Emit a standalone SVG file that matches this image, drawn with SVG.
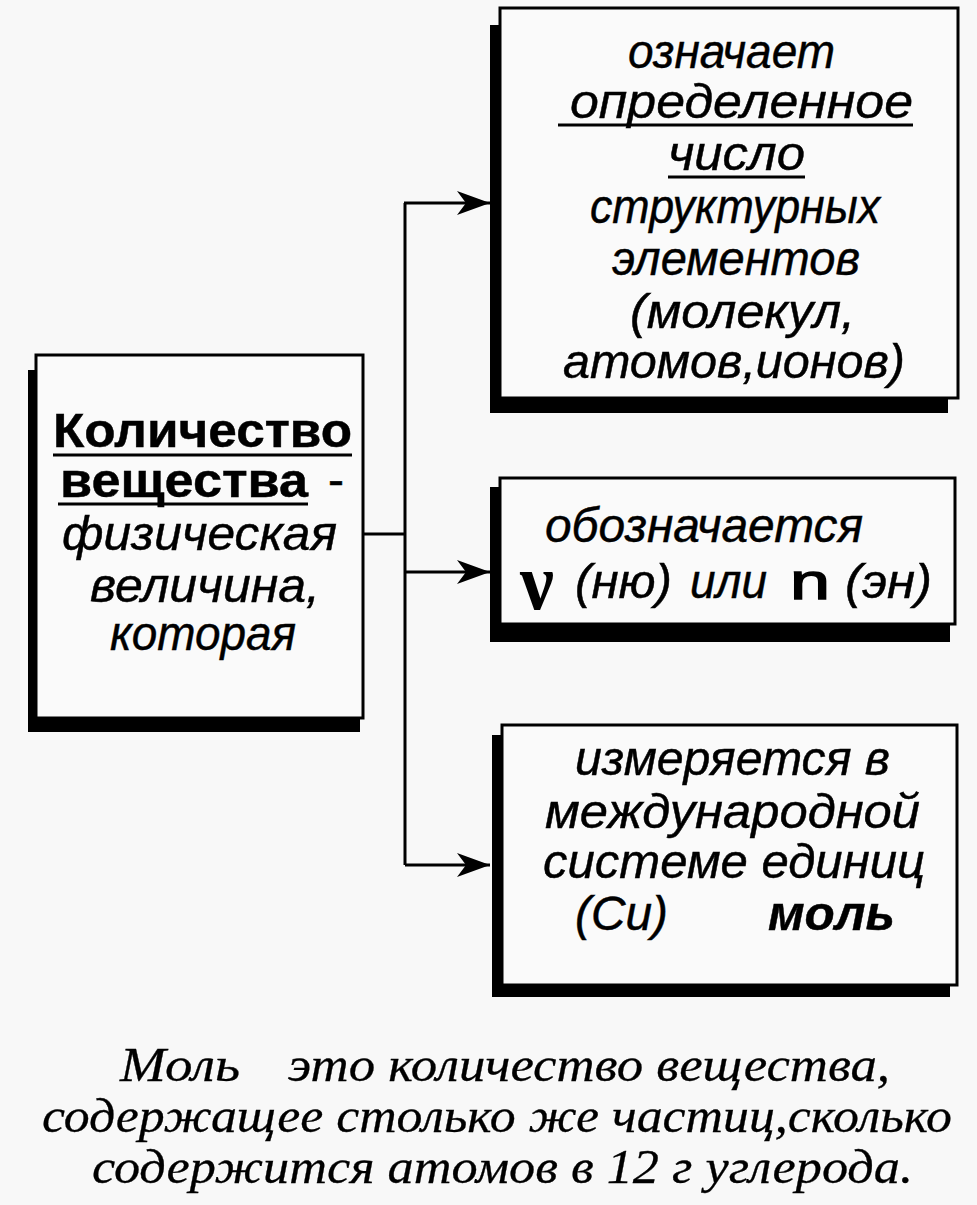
<svg xmlns="http://www.w3.org/2000/svg" width="977" height="1205" viewBox="0 0 977 1205">
<style>
.bg{fill:#f8f8f8}
.box{fill:#fafafa;stroke:#000;stroke-width:3}
.sh{fill:#000}
.t{font-family:"Liberation Sans",Arial,sans-serif;font-size:48px;fill:#000;stroke:#000;stroke-width:0.45}
.i{font-style:italic}
.b{font-weight:bold}
.u{stroke:#000;stroke-width:3}
.cap{font-family:"Liberation Serif","Times New Roman",serif;font-style:italic;font-size:48px;fill:#000;stroke:#000;stroke-width:0.3}
.con{fill:none;stroke:#000;stroke-width:3}
</style>
<defs>
<marker id="arr" markerUnits="strokeWidth" markerWidth="11" markerHeight="8" refX="11" refY="4" orient="auto">
<path d="M0,0 L11,4 L0,8 L3,4 z" fill="#000"/>
</marker>
</defs>
<rect class="bg" x="0" y="0" width="977" height="1205"/>

<g id="node-main">
<rect class="sh" x="28" y="370" width="332" height="362"/>
<rect class="box" x="36" y="355" width="327" height="363"/>
<text class="t b" x="53" y="447" textLength="299" lengthAdjust="spacingAndGlyphs">Количество</text>
<line class="u" x1="53" y1="455" x2="352" y2="455"/>
<text class="t b" x="60" y="497" textLength="248" lengthAdjust="spacingAndGlyphs">вещества</text>
<line class="u" x1="58" y1="504" x2="308" y2="504"/>
<text class="t" x="328" y="496">-</text>
<text class="t i" x="62" y="550" textLength="275" lengthAdjust="spacingAndGlyphs">физическая</text>
<text class="t i" x="90" y="602" textLength="230" lengthAdjust="spacingAndGlyphs">величина,</text>
<text class="t i" x="110" y="650" textLength="186" lengthAdjust="spacingAndGlyphs">которая</text>
</g>

<g id="node-means">
<rect class="sh" x="490" y="25" width="458" height="388"/>
<rect class="box" x="500" y="8" width="458" height="390"/>
<text class="t i" x="628" y="68" textLength="207" lengthAdjust="spacingAndGlyphs">означает</text>
<text class="t i" x="570" y="118" textLength="343" lengthAdjust="spacingAndGlyphs">определенное</text>
<line class="u" x1="558" y1="125" x2="913" y2="125"/>
<text class="t i" x="668" y="170" textLength="137" lengthAdjust="spacingAndGlyphs">число</text>
<line class="u" x1="668" y1="177" x2="805" y2="177"/>
<text class="t i" x="590" y="223" textLength="290" lengthAdjust="spacingAndGlyphs">структурных</text>
<text class="t i" x="612" y="275" textLength="248" lengthAdjust="spacingAndGlyphs">элементов</text>
<text class="t i" x="630" y="328" textLength="225" lengthAdjust="spacingAndGlyphs">(молекул,</text>
<text class="t i" x="563" y="378" textLength="342" lengthAdjust="spacingAndGlyphs">атомов,ионов)</text>
</g>

<g id="node-denoted">
<rect class="sh" x="490" y="487" width="460" height="155"/>
<rect class="box" x="500" y="478" width="455" height="146"/>
<text class="t i" x="545" y="542" textLength="318" lengthAdjust="spacingAndGlyphs">обозначается</text>
<text x="520" y="609" font-family="Liberation Serif, serif" font-weight="bold" font-size="80" fill="#000" textLength="34" lengthAdjust="spacingAndGlyphs">ν</text>
<text class="t i" x="575" y="598" textLength="97" lengthAdjust="spacingAndGlyphs">(ню)</text>
<text class="t i" x="690" y="598" textLength="77" lengthAdjust="spacingAndGlyphs">или</text>
<text x="790" y="599" font-family="Liberation Sans, sans-serif" font-size="50" fill="#000" stroke="#000" stroke-width="1.4" textLength="40" lengthAdjust="spacingAndGlyphs">n</text>
<text class="t i" x="845" y="598" textLength="87" lengthAdjust="spacingAndGlyphs">(эн)</text>
</g>

<g id="node-measured">
<rect class="sh" x="492" y="735" width="458" height="262"/>
<rect class="box" x="502" y="725" width="455" height="260"/>
<text class="t i" x="575" y="775" textLength="315" lengthAdjust="spacingAndGlyphs">измеряется в</text>
<text class="t i" x="545" y="828" textLength="375" lengthAdjust="spacingAndGlyphs">международной</text>
<text class="t i" x="543" y="878" textLength="382" lengthAdjust="spacingAndGlyphs">системе единиц</text>
<text class="t i" x="575" y="930" textLength="93" lengthAdjust="spacingAndGlyphs">(Си)</text>
<text class="t i b" x="768" y="930" textLength="127" lengthAdjust="spacingAndGlyphs">моль</text>
</g>

<g id="connectors">
<polyline class="con" points="363,534 405,534"/>
<polyline class="con" points="405,203 405,865"/>
<line class="con" x1="404" y1="203" x2="490" y2="203" marker-end="url(#arr)"/>
<line class="con" x1="405" y1="572" x2="490" y2="572" marker-end="url(#arr)"/>
<line class="con" x1="405" y1="865" x2="490" y2="865" marker-end="url(#arr)"/>
</g>

<g id="caption">
<text class="cap" x="120" y="1081" textLength="120" lengthAdjust="spacingAndGlyphs">Моль</text>
<text class="cap" x="288" y="1081" textLength="602" lengthAdjust="spacingAndGlyphs">это количество вещества,</text>
<text class="cap" x="42" y="1132" textLength="910" lengthAdjust="spacingAndGlyphs">содержащее столько же частиц,сколько</text>
<text class="cap" x="92" y="1183" textLength="821" lengthAdjust="spacingAndGlyphs">содержится атомов в 12 г углерода.</text>
</g>
</svg>
